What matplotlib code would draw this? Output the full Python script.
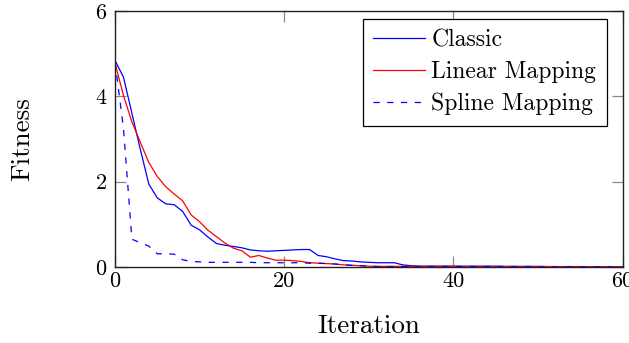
import matplotlib
matplotlib.use("Agg")
import matplotlib.pyplot as plt

plt.rcParams["font.family"] = ["cmr10", "DejaVu Serif"]

# Fitness per iteration
iterations = list(range(61))

classic = [
    4.84, 4.45, 3.60, 2.75, 1.94, 1.62, 1.48, 1.46, 1.30, 0.98,
    0.87, 0.70, 0.55, 0.51, 0.48, 0.45, 0.40, 0.38, 0.37, 0.38,
    0.39, 0.40, 0.41, 0.41, 0.27, 0.24, 0.19, 0.15, 0.14, 0.12,
    0.11, 0.10, 0.10, 0.10, 0.05, 0.03, 0.02, 0.02, 0.02, 0.02,
    0.02, 0.02, 0.02, 0.02, 0.02, 0.02, 0.015, 0.015, 0.015, 0.015,
    0.015, 0.01, 0.01, 0.01, 0.01, 0.01, 0.005, 0.005, 0.005, 0.005,
    0.005,
]

linear = [
    4.78, 4.02, 3.40, 2.92, 2.45, 2.12, 1.88, 1.71, 1.55, 1.22,
    1.06, 0.86, 0.71, 0.56, 0.44, 0.38, 0.23, 0.27, 0.21, 0.16,
    0.16, 0.15, 0.13, 0.10, 0.09, 0.08, 0.07, 0.05, 0.04, 0.03,
    0.02, 0.015, 0.015, 0.015, 0.015, 0.015, 0.015, 0.015, 0.015, 0.015,
    0.015, 0.01, 0.01, 0.01, 0.01, 0.01, 0.01, 0.01, 0.01, 0.01,
    0.01, 0.01, 0.01, 0.005, 0.005, 0.005, 0.005, 0.005, 0.005, 0.005,
    0.005,
]

spline = [
    4.81, 3.25, 0.65, 0.57, 0.49, 0.31, 0.31, 0.30, 0.17, 0.13,
    0.12, 0.11, 0.11, 0.11, 0.11, 0.11, 0.11, 0.10, 0.10, 0.10,
    0.10, 0.10, 0.10, 0.09, 0.09, 0.08, 0.07, 0.05, 0.04, 0.03,
    0.02, 0.01, 0.01, 0.01, 0.01, 0.01, 0.01, 0.01, 0.01, 0.01,
    0.01, 0.01, 0.01, 0.01, 0.01, 0.01, 0.01, 0.01, 0.01, 0.01,
    0.005, 0.005, 0.005, 0.005, 0.005, 0.005, 0.005, 0.005, 0.005, 0.005,
    0.005,
]

x_ticks = [0, 20, 40, 60]
y_ticks = [0, 2, 4, 6]

W, H = 629, 343
fig = plt.figure(figsize=(W / 100, H / 100), dpi=100)
ax = fig.add_axes([115 / W, 1 - 267 / H, (622.7 - 115) / W, (267 - 11) / H])

ax.plot(iterations, classic, color="#0000ff", linewidth=0.9, label="Classic")
ax.plot(iterations, linear, color="#ff0000", linewidth=0.9, label="Linear Mapping")
ax.plot(iterations, spline, color="#0000ff", linewidth=0.9,
        linestyle=(0, (5, 6)), label="Spline Mapping")

ax.set_xlim(0, 60)
ax.set_ylim(0, 6)
ax.set_xticks(x_ticks)
ax.set_yticks(y_ticks)
ax.tick_params(direction="in", length=8, width=0.9, color="#888888",
               top=True, right=True, labelsize=16, pad=6)
ax.tick_params(axis="x", pad=3)
for spine in ax.spines.values():
    spine.set_color("#222222")
    spine.set_linewidth(1.0)

ax.set_xlabel("Iteration", fontsize=19.5)
ax.set_ylabel("Fitness", fontsize=19.5)
ax.xaxis.set_label_coords(0.5, -0.185)
ax.yaxis.set_label_coords(-0.16, 0.5)

leg = ax.legend(loc="upper right", bbox_to_anchor=(606.7 / W, 1 - 19 / H),
                bbox_transform=fig.transFigure, borderaxespad=0,
                fontsize=17, fancybox=False, framealpha=1, edgecolor="black",
                handlelength=2.2, handletextpad=0.25, borderpad=0.45,
                labelspacing=0.4)
leg.get_frame().set_linewidth(0.9)

fig.savefig("out.png", dpi=100)
